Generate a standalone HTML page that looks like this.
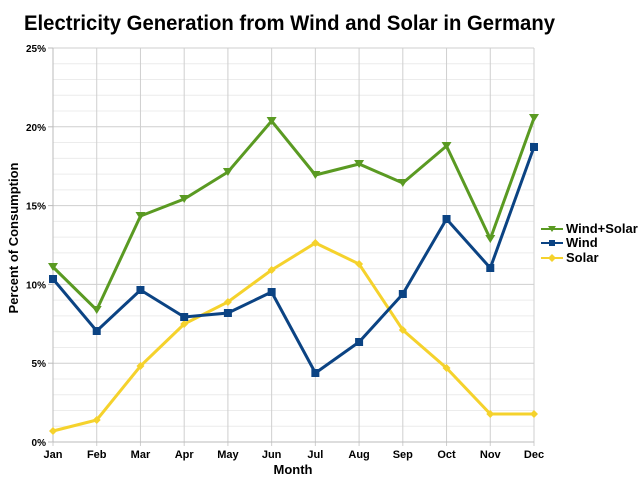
<!DOCTYPE html>
<html><head><meta charset="utf-8"><style>
html,body{margin:0;padding:0;background:#fff;}
svg{display:block;font-family:"Liberation Sans",Arial,sans-serif;}
</style></head><body>
<svg width="640" height="480" viewBox="0 0 640 480" xmlns="http://www.w3.org/2000/svg">
<rect width="640" height="480" fill="#fff"/>
<text x="24" y="30" font-size="21" font-weight="bold" fill="#000" textLength="531" lengthAdjust="spacingAndGlyphs">Electricity Generation from Wind and Solar in Germany</text>
<g id="grid"></g>
<g id="series"></g>
<text x="293" y="474" font-size="13" font-weight="bold" text-anchor="middle">Month</text>
<text transform="translate(18,238) rotate(-90)" font-size="13" font-weight="bold" text-anchor="middle">Percent of Consumption</text>
<g font-size="13" font-weight="bold">
<line x1="541" y1="229" x2="563" y2="229" stroke="#5a9a22" stroke-width="2"/>
<path d="M548,226 L556,226 L552,232 Z" fill="#5a9a22"/>
<text x="566" y="233">Wind+Solar</text>
<line x1="541" y1="243" x2="563" y2="243" stroke="#0b4383" stroke-width="2"/>
<rect x="549" y="240" width="6" height="6" fill="#0b4383"/>
<text x="566" y="247">Wind</text>
<line x1="541" y1="258" x2="563" y2="258" stroke="#f5d22c" stroke-width="2"/>
<path d="M552,254 L556,258 L552,262 L548,258 Z" fill="#f5d22c"/>
<text x="566" y="262">Solar</text>
</g>
</svg>
<script>
(function(){
var ns="http://www.w3.org/2000/svg";
var g=document.getElementById("grid"),s=document.getElementById("series");
function el(p,t,a,txt){var e=document.createElementNS(ns,t);for(var k in a)e.setAttribute(k,a[k]);if(txt)e.textContent=txt;p.appendChild(e);return e;}
var x0=53,x1=534,y0=442,y1=48,dx=(x1-x0)/11,py=(y0-y1)/25;
for(var i=0;i<=25;i++){var y=y0-i*py;var maj=i%5==0;
el(g,"line",{x1:x0,x2:x1,y1:y,y2:y,stroke:maj?"#cfcfcf":"#ececec","stroke-width":1});
if(maj){el(g,"line",{x1:x0-5,x2:x0,y1:y,y2:y,stroke:"#bbb"});
el(g,"text",{x:x0-7,y:y+4,"font-size":"10","font-weight":"bold","text-anchor":"end"},(i)+"%");}}
var m=["Jan","Feb","Mar","Apr","May","Jun","Jul","Aug","Sep","Oct","Nov","Dec"];
for(var i=0;i<12;i++){var x=x0+i*dx;
el(g,"line",{x1:x,x2:x,y1:y1,y2:y0+4,stroke:"#cfcfcf"});
el(g,"text",{x:x,y:458,"font-size":"11","font-weight":"bold","text-anchor":"middle"},m[i]);}
el(g,"line",{x1:x0,x2:x1,y1:y0,y2:y0,stroke:"#bbb"});
el(g,"line",{x1:x0,x2:x0,y1:y1,y2:y0,stroke:"#bbb"});
var solar=[431,420,366,324,302,270,243,264,330,368,414,414];
var wind=[279,331,290,317,313,292,373,342,294,219,268,147];
var ws=[267,310,216,199,172,121,175,164,183,146,239,118];
function line(d,c,mk){var pts=d.map(function(y,i){return (x0+i*dx).toFixed(1)+","+y;}).join(" ");
el(s,"polyline",{points:pts,fill:"none",stroke:c,"stroke-width":3,"stroke-linejoin":"miter"});
d.forEach(function(y,i){var x=x0+i*dx;
if(mk=="sq")el(s,"rect",{x:x-4,y:y-4,width:8,height:8,fill:c});
else if(mk=="tri")el(s,"path",{d:"M"+(x-5)+","+(y-4)+" L"+(x+5)+","+(y-4)+" L"+x+","+(y+4)+" Z",fill:c});
else el(s,"path",{d:"M"+x+","+(y-4)+" L"+(x+4)+","+y+" L"+x+","+(y+4)+" L"+(x-4)+","+y+" Z",fill:c});});}
line(solar,"#f5d22c","dia");
line(wind,"#0b4383","sq");
line(ws,"#5a9a22","tri");
})();
</script>
</body></html>
